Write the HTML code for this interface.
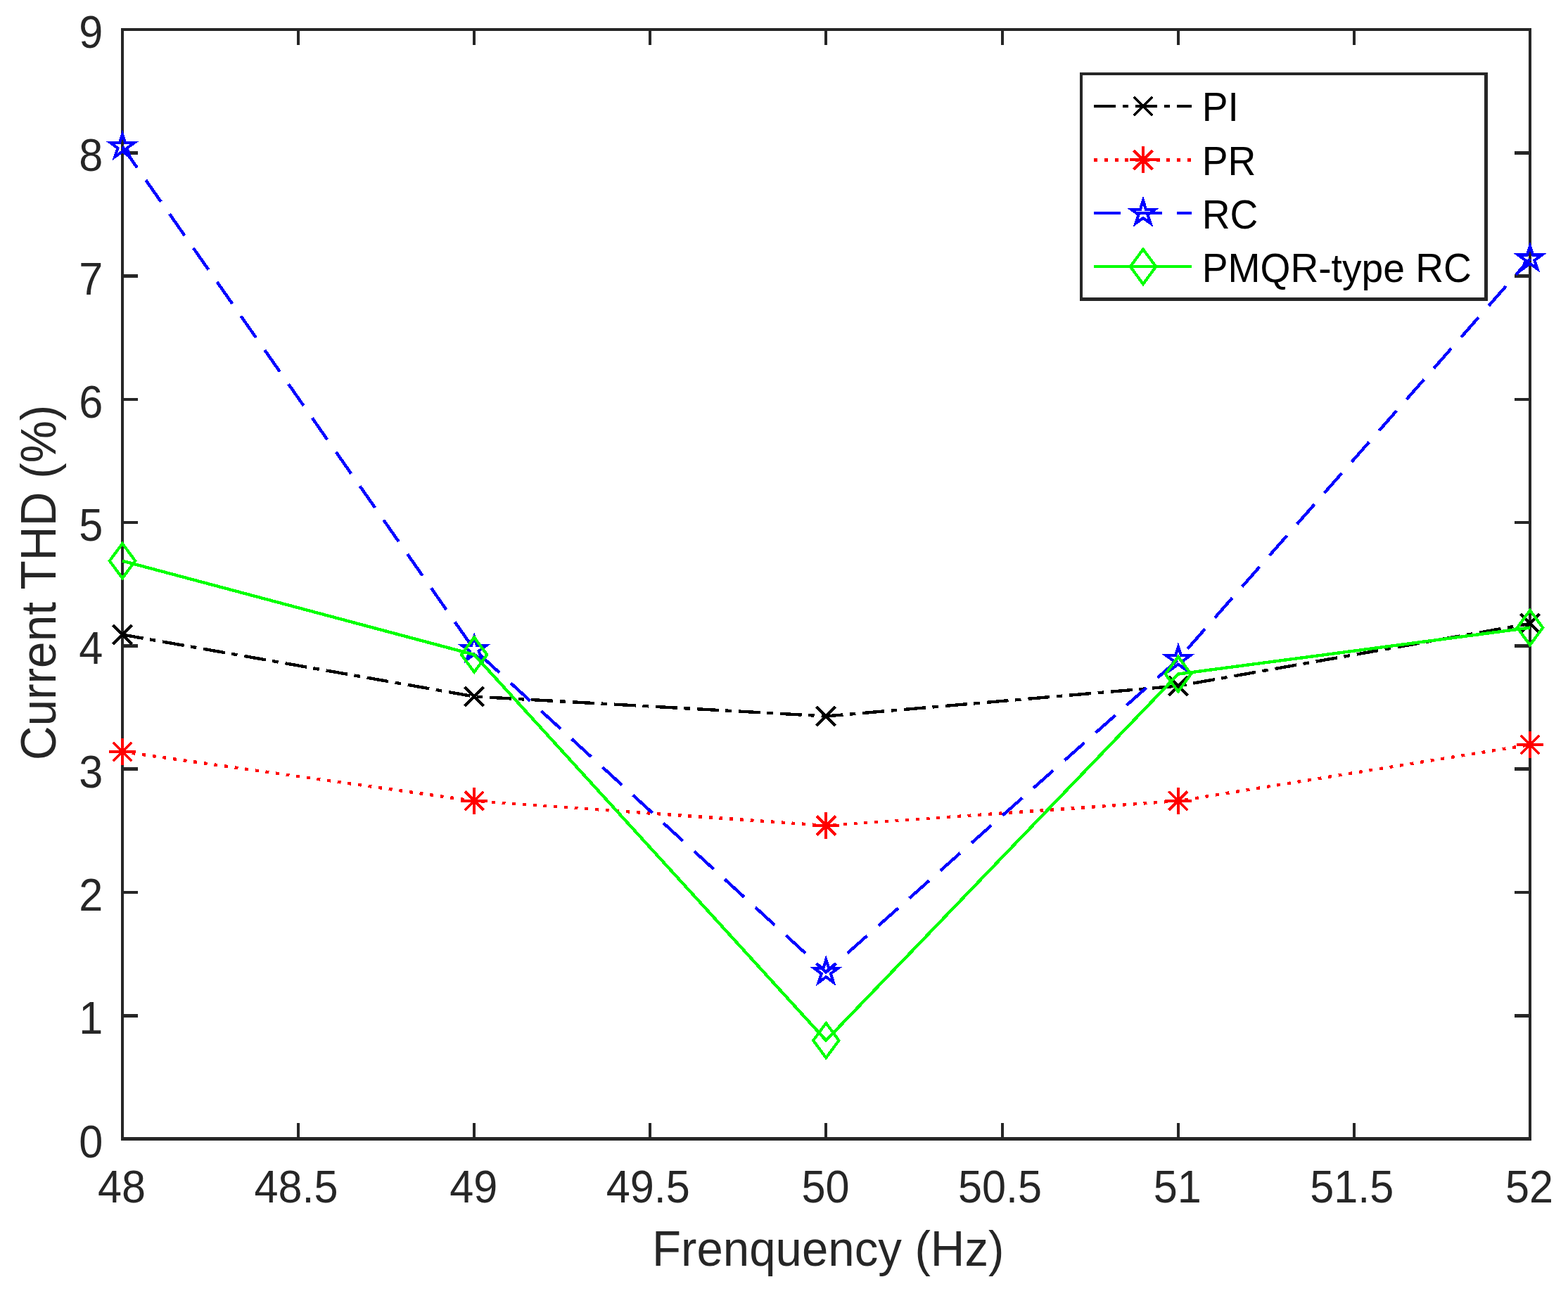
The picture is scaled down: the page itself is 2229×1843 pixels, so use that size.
<!DOCTYPE html>
<html lang="en"><head><meta charset="utf-8"><title>Current THD vs Frequency</title>
<style>html,body{margin:0;padding:0;background:#fff}body{width:2229px;height:1843px}svg{display:block}text{font-family:"Liberation Sans",sans-serif}</style></head><body>
<svg width="2229" height="1843" viewBox="0 0 2229 1843">
<rect width="2229" height="1843" fill="#ffffff"/>
<g fill="#262626" shape-rendering="crispEdges"><rect x="422" y="1597" width="4" height="20"/><rect x="422" y="44" width="4" height="20"/><rect x="672" y="1597" width="4" height="20"/><rect x="672" y="44" width="4" height="20"/><rect x="922" y="1597" width="4" height="20"/><rect x="922" y="44" width="4" height="20"/><rect x="1172" y="1597" width="4" height="20"/><rect x="1172" y="44" width="4" height="20"/><rect x="1423" y="1597" width="4" height="20"/><rect x="1423" y="44" width="4" height="20"/><rect x="1673" y="1597" width="4" height="20"/><rect x="1673" y="44" width="4" height="20"/><rect x="1923" y="1597" width="4" height="20"/><rect x="1923" y="44" width="4" height="20"/><rect x="176" y="1442" width="20" height="5"/><rect x="2153" y="1442" width="20" height="5"/><rect x="176" y="1267" width="20" height="4"/><rect x="2153" y="1267" width="20" height="4"/><rect x="176" y="1091" width="20" height="5"/><rect x="2153" y="1091" width="20" height="5"/><rect x="176" y="916" width="20" height="5"/><rect x="2153" y="916" width="20" height="5"/><rect x="176" y="741" width="20" height="4"/><rect x="2153" y="741" width="20" height="4"/><rect x="176" y="566" width="20" height="4"/><rect x="2153" y="566" width="20" height="4"/><rect x="176" y="390" width="20" height="5"/><rect x="2153" y="390" width="20" height="5"/><rect x="176" y="215" width="20" height="5"/><rect x="2153" y="215" width="20" height="5"/><rect x="172" y="40" width="2005" height="4"/><rect x="172" y="1617" width="2005" height="5"/><rect x="172" y="40" width="4" height="1582"/><rect x="2173" y="40" width="4" height="1582"/></g>
<g><text transform="translate(173.1 1710.3) scale(1 1.05)" font-size="61.2" text-anchor="middle" fill="#262626">48</text><text transform="translate(421.02 1710.3) scale(1 1.05)" font-size="61.2" text-anchor="middle" fill="#262626">48.5</text><text transform="translate(673.35 1710.3) scale(1 1.05)" font-size="61.2" text-anchor="middle" fill="#262626">49</text><text transform="translate(921.27 1710.3) scale(1 1.05)" font-size="61.2" text-anchor="middle" fill="#262626">49.5</text><text transform="translate(1173.6 1710.3) scale(1 1.05)" font-size="61.2" text-anchor="middle" fill="#262626">50</text><text transform="translate(1421.53 1710.3) scale(1 1.05)" font-size="61.2" text-anchor="middle" fill="#262626">50.5</text><text transform="translate(1673.85 1710.3) scale(1 1.05)" font-size="61.2" text-anchor="middle" fill="#262626">51</text><text transform="translate(1921.78 1710.3) scale(1 1.05)" font-size="61.2" text-anchor="middle" fill="#262626">51.5</text><text transform="translate(2174.1 1710.3) scale(1 1.05)" font-size="61.2" text-anchor="middle" fill="#262626">52</text><text transform="translate(146.4 1645.6) scale(1 1.05)" font-size="61.2" text-anchor="end" fill="#262626">0</text><text transform="translate(146.4 1470.32) scale(1 1.05)" font-size="61.2" text-anchor="end" fill="#262626">1</text><text transform="translate(146.4 1295.04) scale(1 1.05)" font-size="61.2" text-anchor="end" fill="#262626">2</text><text transform="translate(146.4 1119.77) scale(1 1.05)" font-size="61.2" text-anchor="end" fill="#262626">3</text><text transform="translate(146.4 944.49) scale(1 1.05)" font-size="61.2" text-anchor="end" fill="#262626">4</text><text transform="translate(146.4 769.21) scale(1 1.05)" font-size="61.2" text-anchor="end" fill="#262626">5</text><text transform="translate(146.4 593.93) scale(1 1.05)" font-size="61.2" text-anchor="end" fill="#262626">6</text><text transform="translate(146.4 418.66) scale(1 1.05)" font-size="61.2" text-anchor="end" fill="#262626">7</text><text transform="translate(146.4 243.38) scale(1 1.05)" font-size="61.2" text-anchor="end" fill="#262626">8</text><text transform="translate(146.4 68.1) scale(1 1.05)" font-size="61.2" text-anchor="end" fill="#262626">9</text><text transform="translate(1177.2 1800.3) scale(1 1.04)" font-size="67.2" text-anchor="middle" fill="#262626">Frenquency (Hz)</text><text transform="translate(78.8 828.5) rotate(-90) scale(1 1.04)" font-size="67.6" text-anchor="middle" fill="#262626">Current THD (%)</text></g>
<g shape-rendering="crispEdges"><path d="M174 902.5L674.1 990.5L1174.3 1018.5L1674.9 975.4L2175 886.8" fill="none" stroke="#000000" stroke-width="4.4" stroke-linejoin="round" stroke-dasharray="31 9.5 8.5 10" stroke-dashoffset="1"/>
<path d="M160.56 889.06L187.44 915.94M160.56 915.94L187.44 889.06" fill="none" stroke="#000000" stroke-width="4.1"/>
<path d="M660.66 977.06L687.54 1003.94M660.66 1003.94L687.54 977.06" fill="none" stroke="#000000" stroke-width="4.1"/>
<path d="M1160.86 1005.06L1187.74 1031.94M1160.86 1031.94L1187.74 1005.06" fill="none" stroke="#000000" stroke-width="4.1"/>
<path d="M1661.46 961.96L1688.34 988.84M1661.46 988.84L1688.34 961.96" fill="none" stroke="#000000" stroke-width="4.1"/>
<path d="M2161.56 873.36L2188.44 900.24M2161.56 900.24L2188.44 873.36" fill="none" stroke="#000000" stroke-width="4.1"/>
</g>
<g shape-rendering="crispEdges"><path d="M174 1069.1L674.1 1139L1174.3 1174L1674.9 1139L2175 1059" fill="none" stroke="#ff0000" stroke-width="4.4" stroke-linejoin="round" stroke-dasharray="4.9 9.845" stroke-dashoffset="1"/>
<path d="M160.56 1055.66L187.44 1082.54M160.56 1082.54L187.44 1055.66M155 1069.1L193 1069.1M174 1050.1L174 1088.1" fill="none" stroke="#ff0000" stroke-width="4.1"/>
<path d="M660.66 1125.56L687.54 1152.44M660.66 1152.44L687.54 1125.56M655.1 1139L693.1 1139M674.1 1120L674.1 1158" fill="none" stroke="#ff0000" stroke-width="4.1"/>
<path d="M1160.86 1160.56L1187.74 1187.44M1160.86 1187.44L1187.74 1160.56M1155.3 1174L1193.3 1174M1174.3 1155L1174.3 1193" fill="none" stroke="#ff0000" stroke-width="4.1"/>
<path d="M1661.46 1125.56L1688.34 1152.44M1661.46 1152.44L1688.34 1125.56M1655.9 1139L1693.9 1139M1674.9 1120L1674.9 1158" fill="none" stroke="#ff0000" stroke-width="4.1"/>
<path d="M2161.56 1045.56L2188.44 1072.44M2161.56 1072.44L2188.44 1045.56M2156 1059L2194 1059M2175 1040L2175 1078" fill="none" stroke="#ff0000" stroke-width="4.1"/>
</g>
<g shape-rendering="crispEdges"><path d="M174 208.5L674.1 923.7L1174.3 1382.5L1674.9 937.8L2175 368" fill="none" stroke="#0000ff" stroke-width="4.4" stroke-linejoin="round" stroke-dasharray="37.5 21.5" stroke-dashoffset="1"/>
<path d="M174 190.6L178.02 202.97L191.02 202.97L180.5 210.61L184.52 222.98L174 215.34L163.48 222.98L167.5 210.61L156.98 202.97L169.98 202.97Z" fill="none" stroke="#0000ff" stroke-width="4.1" stroke-linejoin="miter" stroke-miterlimit="10"/>
<path d="M674.1 905.8L678.12 918.17L691.12 918.17L680.6 925.81L684.62 938.18L674.1 930.54L663.58 938.18L667.6 925.81L657.08 918.17L670.08 918.17Z" fill="none" stroke="#0000ff" stroke-width="4.1" stroke-linejoin="miter" stroke-miterlimit="10"/>
<path d="M1174.3 1364.6L1178.32 1376.97L1191.32 1376.97L1180.8 1384.61L1184.82 1396.98L1174.3 1389.34L1163.78 1396.98L1167.8 1384.61L1157.28 1376.97L1170.28 1376.97Z" fill="none" stroke="#0000ff" stroke-width="4.1" stroke-linejoin="miter" stroke-miterlimit="10"/>
<path d="M1674.9 919.9L1678.92 932.27L1691.92 932.27L1681.4 939.91L1685.42 952.28L1674.9 944.64L1664.38 952.28L1668.4 939.91L1657.88 932.27L1670.88 932.27Z" fill="none" stroke="#0000ff" stroke-width="4.1" stroke-linejoin="miter" stroke-miterlimit="10"/>
<path d="M2175 350.1L2179.02 362.47L2192.02 362.47L2181.5 370.11L2185.52 382.48L2175 374.84L2164.48 382.48L2168.5 370.11L2157.98 362.47L2170.98 362.47Z" fill="none" stroke="#0000ff" stroke-width="4.1" stroke-linejoin="miter" stroke-miterlimit="10"/>
</g>
<g shape-rendering="crispEdges"><path d="M174 797.6L674.1 931L1174.3 1479.6L1674.9 958.6L2175 892.6" fill="none" stroke="#00ff00" stroke-width="4.4" stroke-linejoin="round"/>
<path d="M174 772.9L192.2 797.6L174 822.3L155.8 797.6Z" fill="none" stroke="#00ff00" stroke-width="4.1" stroke-linejoin="miter" stroke-miterlimit="10"/>
<path d="M674.1 906.3L692.3 931L674.1 955.7L655.9 931Z" fill="none" stroke="#00ff00" stroke-width="4.1" stroke-linejoin="miter" stroke-miterlimit="10"/>
<path d="M1174.3 1454.9L1192.5 1479.6L1174.3 1504.3L1156.1 1479.6Z" fill="none" stroke="#00ff00" stroke-width="4.1" stroke-linejoin="miter" stroke-miterlimit="10"/>
<path d="M1674.9 933.9L1693.1 958.6L1674.9 983.3L1656.7 958.6Z" fill="none" stroke="#00ff00" stroke-width="4.1" stroke-linejoin="miter" stroke-miterlimit="10"/>
<path d="M2175 867.9L2193.2 892.6L2175 917.3L2156.8 892.6Z" fill="none" stroke="#00ff00" stroke-width="4.1" stroke-linejoin="miter" stroke-miterlimit="10"/>
</g>
<g><rect x="1535" y="103" width="580" height="325" fill="#ffffff"/>
<g fill="#262626" shape-rendering="crispEdges">
<rect x="1535" y="103" width="580" height="4"/>
<rect x="1535" y="423" width="580" height="5"/>
<rect x="1535" y="103" width="4" height="325"/>
<rect x="2110" y="103" width="5" height="325"/>
</g>
<g shape-rendering="crispEdges"><path d="M1555.2 151H1693.9" fill="none" stroke="#000000" stroke-width="4.4" stroke-dasharray="31 10 8 10"/>
<path d="M1611.56 137.56L1638.44 164.44M1611.56 164.44L1638.44 137.56" fill="none" stroke="#000000" stroke-width="4.1"/></g>
<text transform="translate(1708.7 172.4) scale(1 1.05)" font-size="55.2" text-anchor="start" fill="#000000">PI</text>
<g shape-rendering="crispEdges"><path d="M1555.2 227.3H1693.9" fill="none" stroke="#ff0000" stroke-width="4.4" stroke-dasharray="4.9 9.85"/>
<path d="M1611.56 213.86L1638.44 240.74M1611.56 240.74L1638.44 213.86M1606 227.3L1644 227.3M1625 208.3L1625 246.3" fill="none" stroke="#ff0000" stroke-width="4.1"/></g>
<text transform="translate(1708.7 248.7) scale(1 1.05)" font-size="55.2" text-anchor="start" fill="#000000">PR</text>
<g shape-rendering="crispEdges"><path d="M1555.2 303.2H1693.9" fill="none" stroke="#0000ff" stroke-width="4.4" stroke-dasharray="37.8 21.2"/>
<path d="M1625 285.3L1629.02 297.67L1642.02 297.67L1631.5 305.31L1635.52 317.68L1625 310.04L1614.48 317.68L1618.5 305.31L1607.98 297.67L1620.98 297.67Z" fill="none" stroke="#0000ff" stroke-width="4.1" stroke-linejoin="miter" stroke-miterlimit="10"/></g>
<text transform="translate(1708.7 324.6) scale(1 1.05)" font-size="55.2" text-anchor="start" fill="#000000">RC</text>
<g shape-rendering="crispEdges"><path d="M1555.2 379.2H1693.9" fill="none" stroke="#00ff00" stroke-width="4.4"/>
<path d="M1625 354.5L1643.2 379.2L1625 403.9L1606.8 379.2Z" fill="none" stroke="#00ff00" stroke-width="4.1" stroke-linejoin="miter" stroke-miterlimit="10"/></g>
<text transform="translate(1708.7 400.6) scale(1 1.05)" font-size="55.2" text-anchor="start" fill="#000000">PMQR-type RC</text>
</g>
</svg></body></html>
